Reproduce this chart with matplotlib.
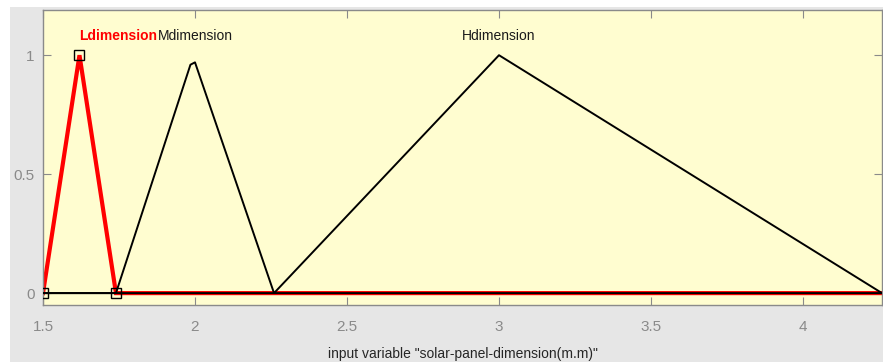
import matplotlib
matplotlib.use("Agg")
import matplotlib.pyplot as plt
from matplotlib.patches import Rectangle

# Data
x_range = [1.5, 4.26]
mf_names = ["Ldimension", "Mdimension", "Hdimension"]
L_x = [1.5, 1.62, 1.74]
L_y = [0.0, 1.0, 0.0]
M_x = [1.74, 1.985, 2.0, 2.26]
M_y = [0.0, 0.96, 0.97, 0.0]
H_x = [2.26, 3.0, 4.26]
H_y = [0.0, 1.0, 0.0]
label_x = [1.747, 2.0, 3.0]
label_y = 1.08
xticks = [1.5, 2, 2.5, 3, 3.5, 4]
xtick_labels = ["1.5", "2", "2.5", "3", "3.5", "4"]
yticks = [0, 0.5, 1]
ytick_labels = ["0", "0.5", "1"]
xlabel = 'input variable "solar-panel-dimension(m.m)"'

plt.rcParams['font.family'] = ['Liberation Sans', 'DejaVu Sans']

fig = plt.figure(figsize=(8.83, 3.62), dpi=100)
fig.patch.set_facecolor('white')
fig.add_artist(Rectangle((10/883, 0), 1, 1 - 7/362, transform=fig.transFigure,
                         facecolor='#E6E6E6', edgecolor='none', zorder=-10))

ax = fig.add_axes([43/883, 57/362, 839/883, 295/362])
ax.set_facecolor('#FFFDD0')

def full(xs, ys):
    # extend MF to full input range with zeros
    fx = list(xs)
    fy = list(ys)
    if fx[0] > x_range[0]:
        fx = [x_range[0]] + fx
        fy = [0.0] + fy
    if fx[-1] < x_range[1]:
        fx = fx + [x_range[1]]
        fy = fy + [0.0]
    return fx, fy

lx, ly = full(L_x, L_y)
mx, my = full(M_x, M_y)
hx, hy = full(H_x, H_y)

ax.plot(lx, ly, color='red', lw=3.0, zorder=2, solid_joinstyle='miter')
ax.plot(mx, my, color='black', lw=1.4, zorder=3)
ax.plot(hx, hy, color='black', lw=1.4, zorder=3)
ax.plot(L_x, L_y, linestyle='none', marker='s', markersize=7.5, markerfacecolor='none',
        markeredgecolor='black', markeredgewidth=1.0, zorder=4, clip_on=True)

ax.text(label_x[0], label_y, mf_names[0], color='red', fontweight='bold', fontsize=10,
        ha='center', va='center')
ax.text(label_x[1], label_y, mf_names[1], color='#1a1a1a', fontsize=10,
        ha='center', va='center')
ax.text(label_x[2], label_y, mf_names[2], color='#1a1a1a', fontsize=10,
        ha='center', va='center')

ax.set_xlim(x_range)
ax.set_ylim(-0.05, 1.19)
ax.set_xticks(xticks)
ax.set_xticklabels(xtick_labels)
ax.set_yticks(yticks)
ax.set_yticklabels(ytick_labels)
ax.tick_params(direction='in', top=True, right=True, length=6, width=0.8,
               colors='#8a8a8a', labelsize=11, pad=6)
ax.tick_params(axis='x', pad=11)
for s in ax.spines.values():
    s.set_color('#8a8a8a')
    s.set_linewidth(1.0)
ax.set_xlabel(xlabel, fontsize=10, color='#262626', labelpad=9)

fig.savefig('out.png', dpi=100, facecolor=fig.get_facecolor())
